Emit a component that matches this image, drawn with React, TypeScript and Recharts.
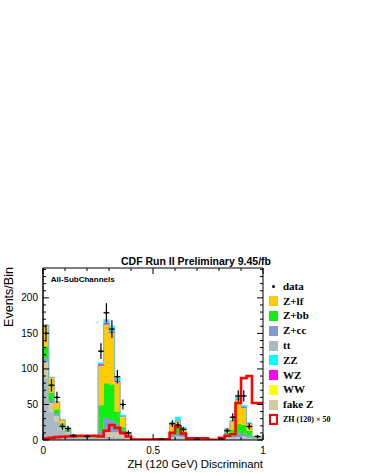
import React from 'react';
import {
  Area,
  ComposedChart,
  ErrorBar,
  Legend,
  Line,
  Scatter,
  XAxis,
  YAxis,
} from 'recharts';

// left edges of the (variable width) histogram bins, last bin ends at 1
const binEdges = [
  0, 0.025, 0.05, 0.075, 0.1, 0.125, 0.15, 0.25, 0.275, 0.3, 0.325, 0.35, 0.375,
  0.4, 0.5, 0.575, 0.6, 0.625, 0.65, 0.75, 0.8, 0.825, 0.85, 0.875, 0.9, 0.925, 0.95,
];
const xMax = 1;

// stacked backgrounds, bottom to top
const ttVals = [88, 40, 26, 14, 9, 4, 3, 2, 5, 5, 4, 3, 2, 0, 0.5, 2, 3, 2, 0.5, 0.2, 1, 2, 2, 2, 3, 2, 1];
const fakeZVals = [22, 12, 8, 4, 2, 1, 0.5, 3, 6, 6, 7, 4, 2, 0, 0.2, 2, 2, 2, 0.3, 0, 0.3, 1, 1, 2, 2, 1, 1];
const zccVals = [5, 3, 3, 2, 1, 0.5, 0.3, 7, 20, 17, 12, 6, 2, 0, 0.2, 3, 4, 3, 0.3, 0, 0.5, 2, 3, 5, 4, 3, 1];
const zbbVals = [17, 11, 6, 3, 2, 0.5, 0.3, 37, 49, 50, 17, 5, 1, 0, 0.3, 5, 9, 5, 0.3, 0, 0.5, 5, 8, 14, 12, 7, 1];
const zlfVals = [28, 21, 10, 5, 3, 1, 0.5, 55, 82, 72, 41, 14, 3, 0, 0.5, 10, 8, 3, 0.5, 0, 0.5, 5, 12, 33, 24, 10, 1];
const wwVals = [0.5, 0.3, 0.2, 0.1, 0, 0, 0, 0.5, 0.5, 0.5, 0.3, 0.2, 0, 0, 0, 0.3, 0.3, 0.2, 0, 0, 0, 0.2, 0.3, 0.5, 0.5, 0.2, 0];
const wzVals = [1, 0.5, 0.4, 0.3, 0.2, 0, 0, 2, 2, 2, 2, 1, 0, 0, 0, 1, 1, 0.5, 0, 0, 0, 0.3, 0.7, 1, 1, 0.3, 0];
const zzVals = [0.5, 0.5, 0.4, 0.3, 0.2, 0, 0, 2, 5, 8, 4, 2, 0.5, 0, 0, 2, 5, 2, 0, 0, 0.2, 0.5, 1, 5, 2, 1, 0.3];

// signal ZH(120) x 50
const zhVals = [2, 3, 4, 4.5, 5, 5.5, 6, 5, 13, 21, 17, 10, 5, 0.5, 1, 10, 19, 9, 2.5, 0.3, 3, 6, 8, 52, 87, 90, 52];

// data points
const dataX = [
  0.0125, 0.0375, 0.0625, 0.0875, 0.1125, 0.1375, 0.2, 0.2625, 0.2875, 0.3125, 0.3375, 0.3625,
  0.3875, 0.5375, 0.5875, 0.6125, 0.6375, 0.7, 0.8125, 0.8375, 0.8625, 0.8875, 0.9125, 0.9375, 0.975,
];
const dataY = [150, 77, 60, 19, 16, 6, 5, 125, 179, 156, 89, 50, 10, 1, 23, 21, 15, 1, 1, 13, 32, 62, 62, 19, 5];
const dataErr = [12, 9, 8, 4.5, 4, 2.5, 2.2, 11, 13.5, 12.5, 9.5, 7, 3.2, 1, 4.8, 4.5, 3.8, 1, 1, 3.6, 5.7, 7.9, 7.9, 4.4, 2.2];
const dataXErr = 0.0135;

const yTicks = [0, 10, 20, 30, 40, 50, 60, 70, 80, 90, 100, 110, 120, 130, 140, 150, 160, 170, 180, 190, 200, 210, 220, 230, 240];
const xTicks = [0, 0.1, 0.2, 0.3, 0.4, 0.5, 0.6, 0.7, 0.8, 0.9, 1];
const xLabelTicks = [0, 0.5, 1];
const yMax = 242;

const series = [
  { key: 'tt', name: 'tt', color: '#a9b9c5' },
  { key: 'fakeZ', name: 'fake Z', color: '#d3c9a7' },
  { key: 'zcc', name: 'Z+cc', color: '#7f9bd0' },
  { key: 'zbb', name: 'Z+bb', color: '#11ee11' },
  { key: 'zlf', name: 'Z+lf', color: '#ffcc00' },
  { key: 'ww', name: 'WW', color: '#ffff00' },
  { key: 'wz', name: 'WZ', color: '#ff00ff' },
  { key: 'zz', name: 'ZZ', color: '#00ffff' },
];
const legendOrder = ['Z+lf', 'Z+bb', 'Z+cc', 'tt', 'ZZ', 'WZ', 'WW', 'fake Z'];

const histData = [...binEdges, xMax].map((x, i) => {
  const k = Math.min(i, binEdges.length - 1);
  return {
    x,
    tt: ttVals[k],
    fakeZ: fakeZVals[k],
    zcc: zccVals[k],
    zbb: zbbVals[k],
    zlf: zlfVals[k],
    ww: wwVals[k],
    wz: wzVals[k],
    zz: zzVals[k],
    zh: zhVals[k],
  };
});

const points = dataX.map((x, i) => ({ x, y: dataY[i], err: dataErr[i], xerr: dataXErr }));

// ROOT style ticks: drawn inward, majors longer
const LeftTick = (props: any) => {
  const { x, y, payload } = props;
  const major = payload.value % 50 === 0;
  return (
    <g>
      <line x1={x} x2={x + (major ? 6 : 3)} y1={y} y2={y} stroke='#000' />
      {major && payload.value <= 200 && (
        <text x={x - 5} y={y} dy='0.355em' textAnchor='end' fontSize={10} fill='#000'>
          {payload.value}
        </text>
      )}
    </g>
  );
};

const RightTick = (props: any) => {
  const { x, y, payload } = props;
  const major = payload.value % 50 === 0;
  return <line x1={x} x2={x - (major ? 6 : 3)} y1={y} y2={y} stroke='#000' />;
};

const BottomTick = (props: any) => {
  const { x, y, payload } = props;
  const major = xLabelTicks.includes(payload.value);
  return (
    <g>
      <line x1={x} x2={x} y1={y} y2={y - (major ? 6 : 3)} stroke='#000' />
      {major && (
        <text x={x} y={y + 6.5} dy='0.71em' textAnchor='middle' fontSize={10} fill='#000'>
          {payload.value}
        </text>
      )}
    </g>
  );
};

const TopTick = (props: any) => {
  const { x, y, payload } = props;
  const major = xLabelTicks.includes(payload.value);
  return <line x1={x} x2={x} y1={y} y2={y + (major ? 6 : 3)} stroke='#000' />;
};

const rowH = 14.8;
const legendText: React.CSSProperties = {
  fontFamily: '"Liberation Serif", "Times New Roman", serif',
  fontWeight: 'bold',
  fontSize: 11,
  lineHeight: 1,
  whiteSpace: 'nowrap',
};

const HistLegend = () => (
  <div>
    <div style={{ height: rowH, display: 'flex', alignItems: 'center' }}>
      <div style={{ width: 9, marginLeft: 3, display: 'flex', justifyContent: 'center' }}>
        <div style={{ width: 2.5, height: 2.5, borderRadius: 2, background: '#000' }} />
      </div>
      <span style={{ ...legendText, marginLeft: 5 }}>data</span>
    </div>
    {legendOrder.map(name => {
      const s = series.find(e => e.name === name)!;
      return (
        <div key={name} style={{ height: rowH, display: 'flex', alignItems: 'center' }}>
          <div style={{ width: 9, height: 10, marginLeft: 3, background: s.color }} />
          <span style={{ ...legendText, marginLeft: 5 }}>{name}</span>
        </div>
      );
    })}
    <div style={{ height: rowH, display: 'flex', alignItems: 'center' }}>
      <div
        style={{
          width: 9,
          height: 11,
          marginLeft: 3,
          boxSizing: 'border-box',
          border: '2.5px solid #ff0000',
          background: '#fff',
        }}
      />
      <span style={{ ...legendText, fontSize: 8, marginLeft: 5 }}>ZH (120) × 50</span>
    </div>
  </div>
);

export default function App() {
  return (
    <div
      style={{
        position: 'absolute',
        left: 0,
        top: 0,
        width: 365,
        height: 473,
        background: '#fff',
        fontFamily: '"Liberation Sans", Arial, sans-serif',
      }}
    >
      <ComposedChart
        width={365}
        height={473}
        data={histData}
        margin={{ top: 267, right: 101, bottom: 0, left: 0 }}
      >
        <XAxis
          dataKey='x'
          type='number'
          domain={[0, 1]}
          ticks={xTicks}
          interval={0}
          height={33}
          tickSize={0}
          tickMargin={0}
          tickLine={false}
          tick={<BottomTick />}
          axisLine={{ stroke: '#000' }}
        />
        <XAxis
          xAxisId='t'
          orientation='top'
          dataKey='x'
          type='number'
          domain={[0, 1]}
          ticks={xTicks}
          interval={0}
          height={1}
          tickSize={0}
          tickMargin={0}
          tickLine={false}
          tick={<TopTick />}
          axisLine={{ stroke: '#000' }}
        />
        <YAxis
          type='number'
          domain={[0, yMax]}
          ticks={yTicks}
          interval={0}
          width={43}
          tickSize={0}
          tickMargin={0}
          tickLine={false}
          tick={<LeftTick />}
          axisLine={{ stroke: '#000', strokeWidth: 1.5 }}
          allowDataOverflow
        />
        <YAxis
          yAxisId='r'
          orientation='right'
          type='number'
          domain={[0, yMax]}
          ticks={yTicks}
          interval={0}
          width={1}
          tickSize={0}
          tickMargin={0}
          tickLine={false}
          tick={<RightTick />}
          axisLine={{ stroke: '#000' }}
          allowDataOverflow
        />
        {series.map(s => (
          <Area
            key={s.key}
            type='stepAfter'
            dataKey={s.key}
            stackId='bkg'
            stroke={s.color}
            strokeWidth={0.5}
            fill={s.color}
            fillOpacity={1}
            isAnimationActive={false}
          />
        ))}
        <Line
          type='stepAfter'
          dataKey='zh'
          stroke='#ff0000'
          strokeWidth={2.6}
          dot={false}
          isAnimationActive={false}
        />
        <Line
          xAxisId='t'
          yAxisId='r'
          type='stepAfter'
          dataKey='zh'
          stroke='none'
          dot={false}
          isAnimationActive={false}
        />
        <Scatter
          data={points}
          dataKey='y'
          fill='#000'
          isAnimationActive={false}
          shape={(p: any) => <circle cx={p.cx} cy={p.cy} r={1.2} fill='#000' />}
        >
          <ErrorBar dataKey='err' direction='y' width={0} stroke='#000' strokeWidth={1.2} />
          <ErrorBar dataKey='xerr' direction='x' width={0} stroke='#000' strokeWidth={1.2} />
        </Scatter>
        <Legend
          layout='vertical'
          align='center'
          verticalAlign='middle'
          content={() => <HistLegend />}
          wrapperStyle={{ left: 266, top: 279, width: 95, height: 150 }}
        />
      </ComposedChart>
      <div
        style={{
          position: 'absolute',
          left: 96,
          top: 255.5,
          width: 200,
          textAlign: 'center',
          fontSize: 10.5,
          fontWeight: 'bold',
          lineHeight: 1,
          whiteSpace: 'nowrap',
        }}
      >
        CDF Run II Preliminary 9.45/fb
      </div>
      <div
        style={{
          position: 'absolute',
          left: 50.7,
          top: 275.8,
          fontSize: 8,
          fontWeight: 'bold',
          lineHeight: 1,
          whiteSpace: 'nowrap',
        }}
      >
        All-SubChannels
      </div>
      <div
        style={{
          position: 'absolute',
          right: 102,
          top: 458.7,
          fontSize: 11.3,
          lineHeight: 1,
          whiteSpace: 'nowrap',
        }}
      >
        ZH (120 GeV) Discriminant
      </div>
      <div
        style={{
          position: 'absolute',
          left: 9,
          top: 297,
          fontSize: 12.5,
          lineHeight: 1,
          whiteSpace: 'nowrap',
          transform: 'translate(-50%, -50%) rotate(-90deg)',
        }}
      >
        Events/Bin
      </div>
    </div>
  );
}
